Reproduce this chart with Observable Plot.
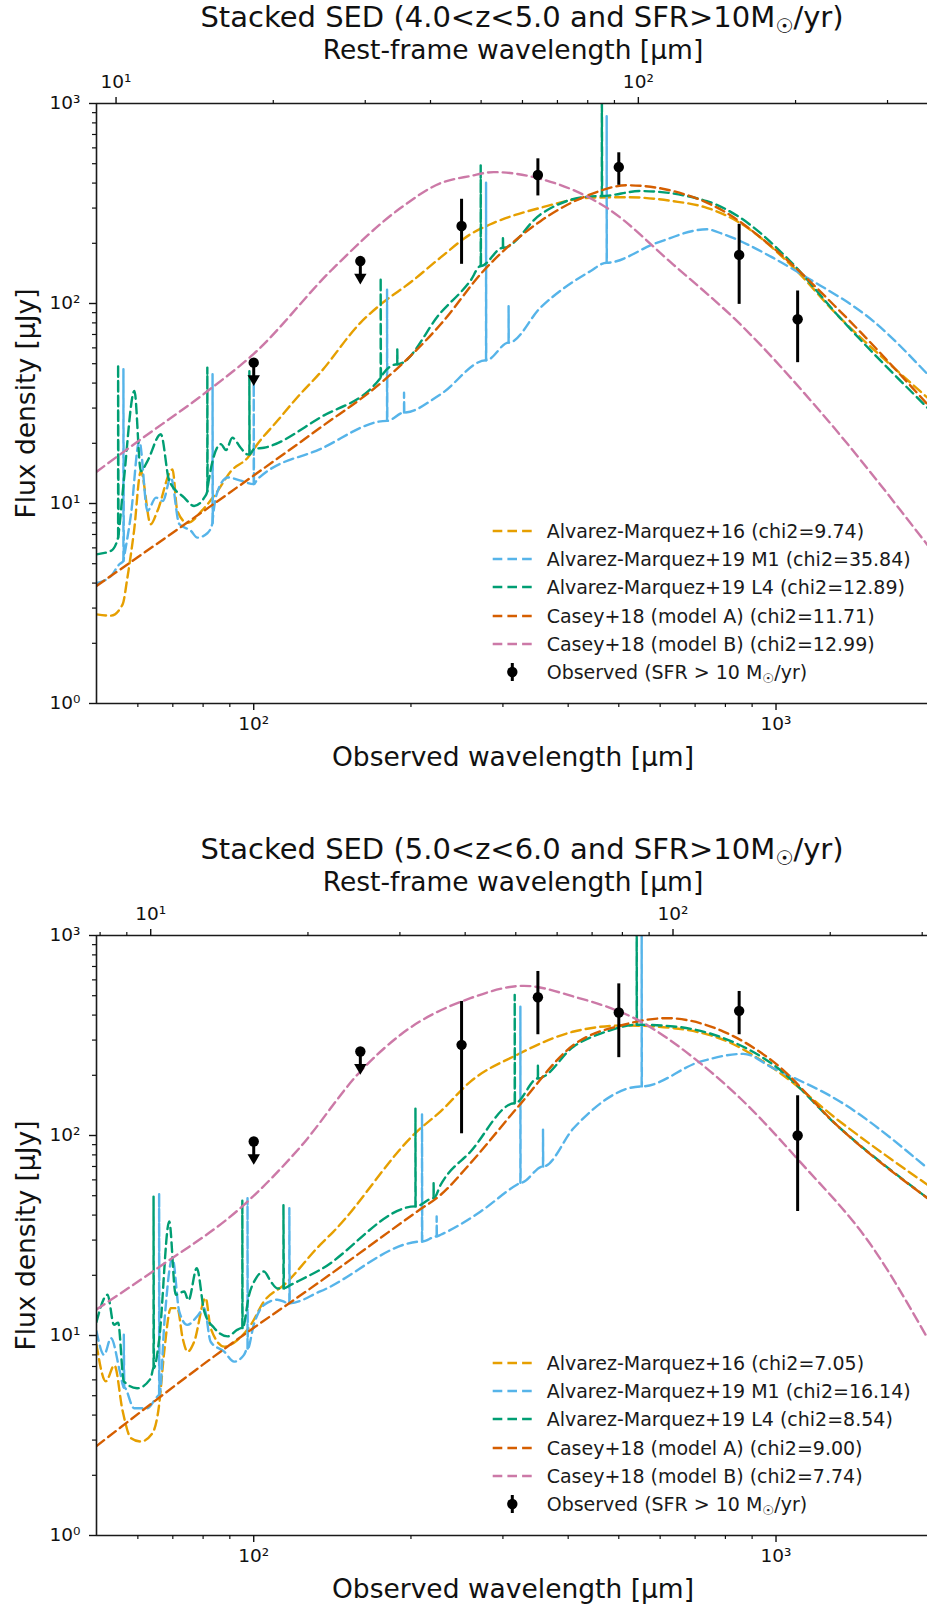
<!DOCTYPE html>
<html><head><meta charset="utf-8">
<script src="https://cdn.jsdelivr.net/npm/d3@7"></script>
<script src="https://cdn.jsdelivr.net/npm/@observablehq/plot@0.6"></script>
<style>
body{margin:0;background:#fff;font-family:"DejaVu Sans",sans-serif;}
#root{position:relative;width:927px;}
.panel{position:relative;width:927px;overflow:hidden;}
.ltxt{position:absolute;left:546.7px;height:28px;line-height:28px;font-size:19px;color:#1a1a1a;white-space:nowrap;font-family:"DejaVu Sans";}
.ltxt sub{font-size:70%;vertical-align:-0.3em;line-height:0;}
</style></head><body><div id="root"></div>
<script>
// ---------- data ----------
const wavelengthObs = [100, 160, 250, 350, 500, 850, 1100];
const isUpperLimit = [true, true, false, false, false, false, false];
const seriesNames = ["Alvarez-Marquez+16", "Alvarez-Marquez+19 M1", "Alvarez-Marquez+19 L4", "Casey+18 (model A)", "Casey+18 (model B)"];
const seriesColors = ["#E69F00", "#56B4E9", "#009E73", "#D55E00", "#CC79A7"];
const chi2_z4 = ["9.74", "35.84", "12.89", "11.71", "12.99"];
const chi2_z5 = ["7.05", "16.14", "8.54", "9.00", "7.74"];
const onePlusZ = [5.45, 6.35];
const titles = ["Stacked SED (4.0<z<5.0 and SFR>10M☉/yr)", "Stacked SED (5.0<z<6.0 and SFR>10M☉/yr)"];
const observedLabel = "Observed (SFR > 10 M☉/yr)";

const obsFlux_z4 = [50.6, 163, 244, 439, 481, 175, 83.4];
const obsLo_z4 = [null, null, 157, 345, 390, 99, 50.6];
const obsHi_z4 = [null, null, 332, 529, 567, 249, 115.5];
const obsFlux_z5 = [93.3, 263, 284, 491, 412, 420, 100];
const obsLo_z5 = [null, null, 102, 319, 245, 319, 41.7];
const obsHi_z5 = [null, null, 468, 661, 573, 525, 158];

// model curves: [observed wavelength (um), flux density (uJy)]; a repeated wavelength marks the top of an emission line
const am16_z4 = [[50,2.79],[53.3,2.75],[56.1,3.13],[57.3,4.26],[59.0,7.3],[60.8,14.5],[63.5,7.87],[65.4,9.17],[69.9,14.8],[71.4,9.2],[74.6,8.0],[80.4,9.5],[85.2,11.5],[90.4,14.5],[97.3,16.9],[101.6,19.8],[111,25.9],[121,33.8],[134,45],[160,80],[175,99],[200,128],[228,170],[260,222],[284,249],[354,301],[441,338],[518,340],[635,325],[737,301],[853,253],[1064,157],[1325,85],[1652,49.7],[1950,33.8]];
const m1_z4 = [[50,4.0],[53.3,4.34],[55.3,4.97],[56.3,5.16],[56.3,46.9],[56.4,5.3],[58.2,8.8],[60.4,20.5],[62.6,9.2],[65,10.7],[67,10.3],[69.4,13.5],[72,7.9],[75.8,7.3],[78,6.75],[81.5,7.1],[83.4,8.0],[83.4,44.3],[83.5,8.4],[85.8,12],[89.2,13.5],[94.4,13],[100,12.5],[100,40],[100.1,12.5],[101.6,13.2],[134,18.7],[180,25.9],[180,118],[180.2,25.9],[194,28.5],[194,35.8],[194.2,28.5],[228,35.2],[278.5,52],[278.5,402],[278.7,52],[307.6,63.7],[307.6,97],[307.8,63.7],[354,95.3],[441,145],[474,160],[474,866],[474.3,160],[591,201],[737,235],[793,222],[988,169],[1145,135],[1535,81.7],[1950,44.3]];
const l4_z4 = [[50,5.57],[53.3,5.8],[55,6.75],[55,49.7],[55.1,7.0],[56.4,13],[59.1,36.5],[60.8,14.5],[62.6,16.3],[66.4,22.2],[68.9,13],[73.6,10.7],[76.9,9.72],[80.4,10.7],[81.5,11.5],[81.5,47.8],[81.6,12],[86.5,19.8],[88.5,18.5],[91,21.3],[94.4,19],[97.3,17.6],[98.1,17.6],[98.1,46],[98.2,17.6],[100.1,18.7],[104.6,19],[134,26.9],[175,42.6],[175,134.6],[175.2,43],[188.3,49.7],[188.3,59],[188.5,49.7],[228,90],[260,130],[272,154],[272,497],[272.3,154],[300,190],[300,218],[300.3,190],[354,279],[421,338],[464,345],[464,1500],[464.5,345],[550,365],[737,325],[853,269],[1064,163],[1325,85],[1950,30.1]];
const caseyA_z4 = [[50,3.87],[100,13.8],[134,23.9],[177,41],[228,78.7],[275,145],[354,258],[441,351],[518,390],[635,365],[793,290],[987,190],[1325,91.7],[1950,31.3]];
const caseyB_z4 = [[50,14.4],[59,19.8],[81.6,36.5],[100,56],[142,150],[191,300],[228,400],[260,434],[288,454],[354,420],[475,300],[635,157],[853,79],[1213,29],[1950,6.2]];

const am16_z5 = [[50,9.0],[52.1,5.9],[54.1,7.1],[56.1,4.2],[58.2,3.07],[60.8,2.95],[64,3.25],[65.9,4.5],[67.4,8.3],[69.4,13.7],[71.4,13.7],[73.1,9.7],[74.7,8.3],[76.9,9.3],[80.9,15.4],[82.7,10.9],[87.8,8.8],[93.1,9.5],[98.7,11.3],[104.6,14.8],[114.3,17.9],[134,28.4],[142,33],[205.6,105],[228,132],[260,186],[319,253],[410,331],[511,355],[637,344],[793,301],[988,217],[1325,117.5],[1950,56.7]];
const m1_z5 = [[50,10.5],[51.7,8.0],[53.3,9.7],[55.5,6.5],[56.4,5.5],[56.4,10.1],[56.5,5.5],[59,4.33],[62.6,4.33],[65,4.86],[65.9,5.05],[65.9,51.5],[66,5.05],[67.5,12],[69.9,24.4],[72,13.2],[74.6,11.3],[78,12.5],[80.4,13.7],[82.7,9.3],[87.8,8.3],[91.7,7.4],[95.8,8.0],[97.3,8.6],[97.3,48.6],[97.4,8.6],[100,11.3],[104.6,14.2],[111,15.1],[117,14.5],[117,43.3],[117.2,14.5],[134,16.6],[210,29.5],[210,129],[210.2,29.5],[224,31.3],[224,39.4],[224.2,31.3],[228,31.9],[272,41.7],[319,56.7],[324,58],[324,441],[324.3,58],[358,70],[358,107],[358.3,70],[410,109],[553,176],[553,1500],[553.5,176],[716,234],[866,256],[988,217],[1325,148],[1950,68.6]];
const l4_z5 = [[50,11.7],[52.5,16],[54,11.3],[55,11.6],[56.4,5.9],[59.8,5.45],[63.5,6.1],[64.3,6.9],[64.3,49.5],[64.4,6.9],[65.9,9.5],[68.9,37.2],[70.9,16],[73.6,16.6],[75,15],[77.8,21.7],[80.4,13.2],[84,10.9],[89.2,9.9],[93.1,10.7],[95.1,10.9],[95.1,47.7],[95.2,10.9],[98,16],[101,19.3],[104.6,20.9],[108,18.5],[111,17.2],[114,17.2],[114,45],[114.2,17.2],[117.7,17.9],[134,21.3],[204,44.2],[204,137],[204.2,44.2],[221,48.6],[221,57.7],[221.2,48.6],[228,56.7],[260,83],[316,145],[316,505],[316.3,145],[350,193],[350,226],[350.3,193],[410,279],[474,331],[541,358],[541,1500],[541.5,358],[637,351],[793,307],[988,226],[1325,109],[1950,48.6]];
const caseyA_z5 = [[50,2.8],[91.7,9.3],[134,18.6],[205.6,41.7],[228,50.5],[260,72.7],[319,137],[410,284],[511,358],[618,386],[793,331],[988,234],[1325,109],[1950,48.6]];
const caseyB_z5 = [[50,13.5],[65.4,21.7],[95.8,45],[123,88],[160,209],[191,319],[260,486],[329,560],[410,495],[550,372],[716,230],[853,154],[1111,74],[1535,27.3],[1950,9.7]];

// axis ticks
const yMajorTicks = [1, 10, 100, 1000];
const yMajorLabels = ["10⁰", "10¹", "10²", "10³"];
const yMinorTicks = [2,3,4,5,6,7,8,9,20,30,40,50,60,70,80,90,200,300,400,500,600,700,800,900];
const xMajorTicks = [100, 1000];
const xMajorLabels = ["10²", "10³"];
const xMinorTicks = [60,70,80,90,200,300,400,500,600,700,800,900];
const restMajorTicks = [10, 100];
const restMajorLabels = ["10¹", "10²"];
const restMinorTicks = [6,7,8,9,20,30,40,50,60,70,80,90,200,300,400];

// ---------- drawing ----------
const X_DOMAIN = [50, 1950];
const UL_DROP = 0.83;
const DASH = "9.6,5.1";
const INK = "#1a1a1a";

function fmt(ticks, labels) { return d => { const i = ticks.indexOf(d); return i < 0 ? "" : labels[i]; }; }

// split a curve into its smooth continuum and its emission-line spikes
function splitCurve(pts) {
  const cont = [], spikes = [];
  pts.forEach((p, i) => {
    if (i > 0 && p[0] === pts[i - 1][0]) {
      spikes.push([pts[i - 1], p, pts[i + 1] || pts[i - 1]]);
    } else cont.push(p);
  });
  return {cont, spikes};
}

function patchSun(svg) {
  d3.select(svg).selectAll("text").each(function () {
    const t = this.textContent;
    if (!t.includes("☉")) return;
    const parts = t.split("☉");
    this.textContent = "";
    const s = d3.select(this);
    s.append("tspan").text(parts[0]);
    s.append("tspan").attr("font-size", "70%").attr("dy", "6px").text("☉");
    s.append("tspan").attr("dy", "-6px").text(parts[1]);
  });
}

function makePanel(k, curves, flux, lo, hi, chi2, height) {
  const z1 = onePlusZ[k];
  const obs = wavelengthObs.map((w, i) => ({w, f: flux[i], lo: lo[i], hi: hi[i], ul: isUpperLimit[i]}));
  const det = obs.filter(d => !d.ul), ul = obs.filter(d => d.ul);
  const restObsMajor = restMajorTicks.map(t => t * z1);
  const restObsMinor = restMinorTicks.map(t => t * z1).filter(v => v >= X_DOMAIN[0] && v <= X_DOMAIN[1]);
  const marks = [];
  curves.forEach((c, i) => {
    const {cont, spikes} = splitCurve(c);
    marks.push(Plot.line(cont, {x: d => d[0], y: d => d[1], stroke: seriesColors[i], strokeWidth: 2.4, strokeDasharray: DASH, curve: "monotone-x", clip: true}));
    spikes.forEach(s => marks.push(Plot.line(s, {x: d => d[0], y: d => d[1], stroke: seriesColors[i], strokeWidth: 2.4, strokeDasharray: DASH, clip: true})));
  });
  marks.push(
    Plot.ruleX(ul, {x: "w", y1: "f", y2: d => d.f * UL_DROP, stroke: "#000", strokeWidth: 3}),
    Plot.dot(ul, {x: "w", y: d => d.f * UL_DROP, symbol: "triangle", rotate: 180, r: 4.6, fill: "#000", stroke: "none"}),
    Plot.ruleX(det, {x: "w", y1: "lo", y2: "hi", stroke: "#000", strokeWidth: 3}),
    Plot.dot(obs, {x: "w", y: "f", r: 5.2, fill: "#000", stroke: "none"}),
    Plot.ruleY([1, 1000], {stroke: INK, strokeWidth: 1.6}),
    Plot.ruleX([X_DOMAIN[0]], {stroke: INK, strokeWidth: 1.6}),
    Plot.axisY({ticks: yMajorTicks, tickFormat: fmt(yMajorTicks, yMajorLabels), tickSize: 7, tickPadding: 9, strokeWidth: 1.4, label: null}),
    Plot.axisY({ticks: yMinorTicks, tickFormat: () => "", tickSize: 4, strokeWidth: 1.2, label: null}),
    Plot.axisX({anchor: "bottom", ticks: xMajorTicks, tickFormat: fmt(xMajorTicks, xMajorLabels), tickSize: 7, tickPadding: 6, strokeWidth: 1.4, label: null}),
    Plot.axisX({anchor: "bottom", ticks: xMinorTicks, tickFormat: () => "", tickSize: 4, strokeWidth: 1.2, label: null}),
    Plot.axisX({anchor: "top", ticks: restObsMajor, tickFormat: fmt(restObsMajor, restMajorLabels), tickSize: 7, tickPadding: 9, strokeWidth: 1.4, label: null}),
    Plot.axisX({anchor: "top", ticks: restObsMinor, tickFormat: () => "", tickSize: 4, strokeWidth: 1.2, label: null}),
    Plot.text([titles[k]], {text: d => d, frameAnchor: "top", dy: -85.5, dx: 10, fontSize: 29, lineAnchor: "middle", fill: "#111"}),
    Plot.text(["Rest-frame wavelength [μm]"], {text: d => d, frameAnchor: "top", dy: -53, dx: 1, fontSize: 26.5, lineAnchor: "middle", fill: "#111"}),
    Plot.text(["Observed wavelength [μm]"], {text: d => d, frameAnchor: "bottom", dy: 54, dx: 1, fontSize: 26.5, lineAnchor: "middle", fill: "#111"}),
    Plot.text(["Flux density [μJy]"], {text: d => d, frameAnchor: "left", dx: -70, rotate: -90, fontSize: 26.5, lineAnchor: "middle", textAnchor: "middle", fill: "#111"})
  );
  const svg = Plot.plot({
    width: 927, height, marginLeft: 96, marginRight: 0, marginTop: 103, marginBottom: height - 703,
    x: {type: "log", domain: X_DOMAIN, label: null},
    y: {type: "log", domain: [1, 1000], label: null},
    style: {fontFamily: "DejaVu Sans", fontSize: "18.5px", color: "#111", background: "#fff"},
    marks
  });
  patchSun(svg);

  const div = document.createElement("div");
  div.className = "panel";
  div.style.height = height + "px";
  div.appendChild(svg);

  // legend (inside the axes, lower right)
  const rows = seriesNames.map((n, i) => ({label: `${n} (chi2=${chi2[i]})`, color: seriesColors[i]}));
  rows.push({label: observedLabel, color: null});
  const D = d3.select(div);
  rows.forEach((r, j) => {
    const cy = 530.7 + j * 28.3;
    const h = D.append("svg").style("position", "absolute").style("left", "488px").style("top", (cy - 10) + "px")
      .attr("width", 50).attr("height", 20);
    if (r.color) {
      h.append("line").attr("x1", 4.7).attr("x2", 43.7).attr("y1", 10).attr("y2", 10)
        .attr("stroke", r.color).attr("stroke-width", 2.4).attr("stroke-dasharray", DASH);
    } else {
      h.append("line").attr("x1", 24.3).attr("x2", 24.3).attr("y1", 1).attr("y2", 19).attr("stroke", "#000").attr("stroke-width", 3);
      h.append("circle").attr("cx", 24.3).attr("cy", 10).attr("r", 5.2).attr("fill", "#000");
    }
    const t = D.append("div").attr("class", "ltxt").style("top", (cy - 14) + "px");
    const parts = r.label.split("☉");
    t.append("span").text(parts[0]);
    if (parts.length > 1) { t.append("sub").text("☉"); t.append("span").text(parts[1]); }
  });
  return div;
}

const root = document.getElementById("root");
root.appendChild(makePanel(0, [am16_z4, m1_z4, l4_z4, caseyA_z4, caseyB_z4], obsFlux_z4, obsLo_z4, obsHi_z4, chi2_z4, 832));
root.appendChild(makePanel(1, [am16_z5, m1_z5, l4_z5, caseyA_z5, caseyB_z5], obsFlux_z5, obsLo_z5, obsHi_z5, chi2_z5, 774));
</script></body></html>
